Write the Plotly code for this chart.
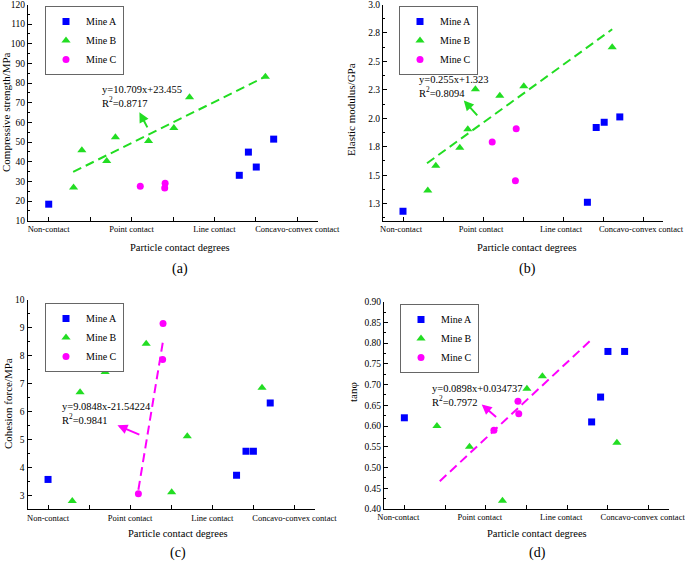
import plotly.graph_objects as go

W, H = 685, 568
FONT = "Liberation Serif"

# ---------------- Data ----------------
contact_vals = [1, 3, 5, 7]
contact_text = ["Non-contact", "Point contact", "Line contact", "Concavo-convex contact"]
series_names = ["Mine A", "Mine B", "Mine C"]

# (a) Compressive strength / MPa
a_A_x = [1.0, 5.60, 5.82, 6.01, 6.43]
a_A_y = [18.4, 33.1, 44.9, 37.3, 51.5]
a_B_x = [1.60, 1.80, 2.40, 2.61, 3.41, 4.02, 4.40, 6.23]
a_B_y = [26.9, 45.8, 40.4, 52.5, 50.5, 57.2, 72.8, 83.2]
a_C_x = [3.21, 3.81, 3.80]
a_C_y = [27.5, 29.1, 26.7]
a_fit_x = [1.59, 6.20]
a_fit_y = [34.8, 83.0]

# (b) Elastic modulus / GPa
b_A_x = [1.0, 5.61, 5.83, 6.03, 6.42]
b_A_y = [1.183, 1.262, 1.919, 1.965, 2.012]
b_B_x = [1.62, 1.82, 2.42, 2.62, 2.81, 3.42, 4.02, 6.23]
b_B_y = [1.366, 1.584, 1.741, 1.904, 2.256, 2.198, 2.282, 2.625]
b_C_x = [3.23, 3.83, 3.81]
b_C_y = [1.791, 1.907, 1.451]
b_fit_x = [1.60, 6.23]
b_fit_y = [1.605, 2.782]

# (c) Cohesion force / MPa
c_A_x = [1.0, 5.59, 5.82, 6.0, 6.41]
c_A_y = [3.57, 3.72, 4.58, 4.58, 6.31]
c_B_x = [1.59, 1.78, 2.39, 2.60, 3.39, 4.01, 4.39, 6.21]
c_B_y = [2.80, 6.69, 7.42, 7.51, 8.43, 3.11, 5.12, 6.86]
c_C_x = [3.20, 3.79, 3.80]
c_C_y = [3.06, 7.87, 9.16]
c_fit_x = [3.20, 3.81]
c_fit_y = [3.20, 8.62]

# (d) tan(phi)
d_A_x = [1.0, 5.60, 5.82, 6.0, 6.41]
d_A_y = [0.62, 0.61, 0.67, 0.78, 0.78]
d_B_x = [1.60, 1.80, 2.60, 3.41, 4.01, 4.39, 6.22]
d_B_y = [0.75, 0.60, 0.55, 0.42, 0.69, 0.72, 0.56]
d_C_x = [3.20, 3.79, 3.81]
d_C_y = [0.59, 0.66, 0.63]
d_fit_x = [1.87, 5.60]
d_fit_y = [0.467, 0.809]

BLUE, GREEN, MAGENTA = "#0000FF", "#22DD22", "#FF00FF"

fig = go.Figure()

def px_x(p):
    return min(1.0, max(0.0, p / W))

def px_y(p):
    return min(1.0, max(0.0, 1 - p / H))

panels = [
    ("", (28, 318, 4.5, 220.7),
     (a_A_x, a_A_y, a_B_x, a_B_y, a_C_x, a_C_y), (a_fit_x, a_fit_y), GREEN, "legend", 0),
    ("2", (383, 663, 4.5, 220.7),
     (b_A_x, b_A_y, b_B_x, b_B_y, b_C_x, b_C_y), (b_fit_x, b_fit_y), GREEN, "legend2", -2),
    ("3", (27.5, 315, 300, 509.3),
     (c_A_x, c_A_y, c_B_x, c_B_y, c_C_x, c_C_y), (c_fit_x, c_fit_y), MAGENTA, "legend3", 0),
    ("4", (384, 669, 301.7, 509),
     (d_A_x, d_A_y, d_B_x, d_B_y, d_C_x, d_C_y), (d_fit_x, d_fit_y), MAGENTA, "legend4", -6),
]

symbols = ["square", "triangle-up", "circle"]
colors = [BLUE, GREEN, MAGENTA]
sizes = [7, 8, 7]

for suf, dom, data, fit, fitcol, leg, shift in panels:
    xa, ya = "x" + suf, "y" + suf
    for i in range(3):
        fig.add_trace(go.Scatter(
            x=data[2 * i], y=data[2 * i + 1], mode="markers", name=series_names[i],
            marker=dict(symbol=symbols[i], color=colors[i], size=sizes[i], line=dict(width=0)),
            xaxis=xa, yaxis=ya, legend=leg, showlegend=True, cliponaxis=False))
    fig.add_trace(go.Scatter(
        x=fit[0], y=fit[1], mode="lines", line=dict(color=fitcol, width=2, dash="9px,5px"),
        xaxis=xa, yaxis=ya, showlegend=False, hoverinfo="skip"))

axis_common = dict(showgrid=False, zeroline=False, showline=True, linecolor="black",
                   linewidth=1, ticks="inside", ticklen=4, tickcolor="black", mirror=False,
                   automargin=False, ticklabeloverflow="allow")

x_common = dict(axis_common, range=[0.5, 7.5], tickmode="array", tickvals=contact_vals,
                ticktext=contact_text, tickfont=dict(family=FONT, size=8.5, color="black"),
                minor=dict(ticks="inside", ticklen=4, tickcolor="black", tick0=0, dtick=1))

y_specs = [
    dict(range=[10, 120], tickmode="linear", tick0=10, dtick=10,
         minor=dict(ticks="inside", ticklen=2, tickcolor="black", tick0=15, dtick=10)),
    dict(range=[1.1, 3.0], tickmode="array",
         tickvals=[1.25, 1.5, 1.75, 2.0, 2.25, 2.5, 2.75, 3.0],
         ticktext=["1.3", "1.5", "1.8", "2.0", "2.3", "2.5", "2.8", "3.0"],
         minor=dict(ticks="inside", ticklen=2, tickcolor="black", tick0=1.125, dtick=0.25)),
    dict(range=[2.5, 10], tickmode="linear", tick0=3, dtick=1,
         minor=dict(ticks="inside", ticklen=2, tickcolor="black", tick0=2.5, dtick=1)),
    dict(range=[0.4, 0.9], tickmode="linear", tick0=0.4, dtick=0.05, tickformat=".2f",
         minor=dict(ticks="inside", ticklen=2, tickcolor="black", tick0=0.425, dtick=0.05)),
]

layout = dict(template="none", width=W, height=H,
              margin=dict(l=0, r=0, t=0, b=0, autoexpand=False),
              paper_bgcolor="white", plot_bgcolor="white",
              font=dict(family=FONT, color="black"))

for k, (suf, dom, data, fit, fitcol, leg, shift) in enumerate(panels):
    x0, x1, yt, yb = dom
    layout["xaxis" + suf] = dict(x_common, domain=[px_x(x0), px_x(x1)], anchor="y" + suf,
                                 ticklabelshift=shift)
    layout["yaxis" + suf] = dict(axis_common, **y_specs[k], domain=[px_y(yb), px_y(yt)],
                                 anchor="x" + suf,
                                 tickfont=dict(family=FONT, size=9.5, color="black"))

legend_pos = [(45, 6), (399, 6), (45, 303), (400, 304)]
for k, name in enumerate(["legend", "legend2", "legend3", "legend4"]):
    lx, ly = legend_pos[k]
    layout[name] = dict(x=px_x(lx), y=px_y(ly), xanchor="left", yanchor="top",
                        bgcolor="white", bordercolor="#666666", borderwidth=1,
                        font=dict(family=FONT, size=10, color="black"),
                        tracegroupgap=0, itemwidth=30)

fig.update_layout(**layout)

ann = []
ytitles = [("Compressive strength/MPa", 6, 112), ("Elastic modulus/GPa", 351, 110),
           ("Cohesion force/MPa", 8, 404), ("tanφ", 353, 392)]
for t, x, y in ytitles:
    ann.append(dict(text=t, x=px_x(x), y=px_y(y), xref="paper", yref="paper", showarrow=False,
                    textangle=-90, font=dict(family=FONT, size=11), xanchor="center", yanchor="middle"))
for cx, ty, ly, lab in [(180, 247, 269, "(a)"), (527, 247, 269, "(b)"),
                        (178, 533, 553, "(c)"), (537, 533, 553, "(d)")]:
    ann.append(dict(text="Particle contact degrees", x=px_x(cx), y=px_y(ty), xref="paper", yref="paper",
                    showarrow=False, font=dict(family=FONT, size=10.5), xanchor="center",
                    yanchor="middle"))
    ann.append(dict(text=lab, x=px_x(cx), y=px_y(ly), xref="paper", yref="paper",
                    showarrow=False, font=dict(family=FONT, size=14), xanchor="center", yanchor="middle"))
eqs = [("y=10.709x+23.455<br>R<sup>2</sup>=0.8717", 100, 96.5),
       ("y=0.255x+1.323<br>R<sup>2</sup>=0.8094", 417, 86.5),
       ("y=9.0848x-21.54224<br>R<sup>2</sup>=0.9841", 60, 413.5),
       ("y=0.0898x+0.034737<br>R<sup>2</sup>=0.7972", 430, 395.5)]
for t, x, y in eqs:
    ann.append(dict(text=t, x=px_x(x), y=px_y(y), xref="paper", yref="paper", showarrow=False,
                    align="left", xanchor="left", yanchor="middle", font=dict(family=FONT, size=10.5)))
arrows = [("", 3.19, 65.2, 3.40, 56.7, GREEN), ("2", 2.52, 2.157, 2.89, 2.012, GREEN),
          ("3", 2.69, 5.51, 3.26, 5.15, MAGENTA), ("4", 2.90, 0.652, 3.29, 0.619, MAGENTA)]
for suf, hx, hy, tx, ty, col in arrows:
    ann.append(dict(text="", x=hx, y=hy, ax=tx, ay=ty, xref="x" + suf, yref="y" + suf,
                    axref="x" + suf, ayref="y" + suf, showarrow=True, arrowhead=2,
                    arrowsize=1, arrowwidth=2, arrowcolor=col))

fig.update_layout(annotations=ann)
fig.write_html("out.html", config={"displayModeBar": False},
               post_script="document.body.style.margin='0';document.body.style.overflow='hidden';")
